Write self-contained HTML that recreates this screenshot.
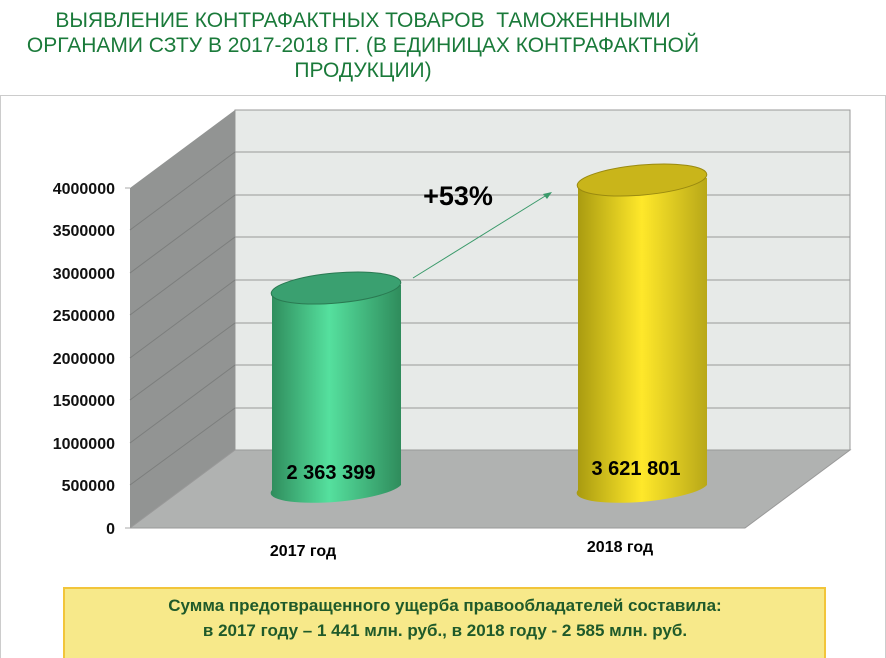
<!DOCTYPE html>
<html><head><meta charset="utf-8"><style>
body{margin:0;width:886px;height:658px;background:#fff;overflow:hidden;position:relative;font-family:"Liberation Sans",sans-serif}
.t{position:absolute;left:0;width:726px;top:8px;text-align:center;color:#1a7a3a;font-size:21px;line-height:25px}
</style></head><body>
<div class="t">ВЫЯВЛЕНИЕ КОНТРАФАКТНЫХ ТОВАРОВ&nbsp; ТАМОЖЕННЫМИ<br>ОРГАНАМИ СЗТУ В 2017-2018 ГГ. (В ЕДИНИЦАХ КОНТРАФАКТНОЙ<br>ПРОДУКЦИИ)</div>
<svg width="886" height="658" style="position:absolute;left:0;top:0">
<defs>
<linearGradient id="g" x1="0" x2="1"><stop offset="0" stop-color="#2f8c5c"/><stop offset=".45" stop-color="#55e09e"/><stop offset="1" stop-color="#2f8c5c"/></linearGradient>
<linearGradient id="y" x1="0" x2="1"><stop offset="0" stop-color="#a89a10"/><stop offset=".5" stop-color="#ffe82a"/><stop offset="1" stop-color="#b8a818"/></linearGradient>
</defs>
<rect x="0.5" y="95.5" width="885" height="570" fill="none" stroke="#ccc"/>
<polygon points="235,110 850,110 850,450 235,450" fill="#e7eae8" stroke="#999"/>
<g stroke="#999">
<line x1="235" y1="152" x2="850" y2="152"/><line x1="235" y1="195" x2="850" y2="195"/><line x1="235" y1="237" x2="850" y2="237"/><line x1="235" y1="280" x2="850" y2="280"/><line x1="235" y1="323" x2="850" y2="323"/><line x1="235" y1="365" x2="850" y2="365"/><line x1="235" y1="408" x2="850" y2="408"/>
</g>
<polygon points="130,188 235,110 235,450 130,528" fill="#929493"/>
<g stroke="#7c7e7d"><line x1="130" y1="230" x2="235" y2="152"/><line x1="130" y1="273" x2="235" y2="195"/><line x1="130" y1="315" x2="235" y2="237"/><line x1="130" y1="358" x2="235" y2="280"/><line x1="130" y1="400" x2="235" y2="323"/><line x1="130" y1="443" x2="235" y2="365"/><line x1="130" y1="485" x2="235" y2="408"/></g>
<polygon points="130,528 235,450 850,450 745,528" fill="#b0b2b1" stroke="#999"/>
<g stroke="#aaa"><line x1="125" y1="188" x2="130" y2="188"/><line x1="125" y1="528" x2="130" y2="528"/></g>
<g font-weight="bold" font-size="16" text-anchor="end" fill="#111">
<text x="115" y="194">4000000</text><text x="115" y="236">3500000</text><text x="115" y="279">3000000</text><text x="115" y="321">2500000</text><text x="115" y="364">2000000</text><text x="115" y="406">1500000</text><text x="115" y="449">1000000</text><text x="115" y="491">500000</text><text x="115" y="534">0</text>
</g>
<path d="M272,295 L272,490 A65,14 -5 0 0 401,485 L401,285 Z" fill="url(#g)"/>
<ellipse cx="336" cy="288" rx="65" ry="15" transform="rotate(-5 336 288)" fill="#3aa070" stroke="#2a7a52"/>
<path d="M578,185 L578,490 A65,14 -5 0 0 707,485 L707,178 Z" fill="url(#y)"/>
<ellipse cx="642" cy="180" rx="65" ry="15" transform="rotate(-5 642 180)" fill="#c9b51a" stroke="#9a8a10"/>
<line x1="413" y1="278" x2="550" y2="193" stroke="#3a9a6a"/>
<polygon points="552,192 543,194 547,199" fill="#3a9a6a"/>
<text x="458" y="205" font-size="27" font-weight="bold" text-anchor="middle">+53%</text>
<text x="331" y="479" font-size="20" font-weight="bold" text-anchor="middle">2 363 399</text>
<text x="636" y="475" font-size="20" font-weight="bold" text-anchor="middle">3 621 801</text>
<text x="303" y="556" font-size="16" font-weight="bold" text-anchor="middle">2017 год</text>
<text x="620" y="552" font-size="16" font-weight="bold" text-anchor="middle">2018 год</text>
<rect x="64" y="588" width="761" height="72" fill="#f7e98a" stroke="#f2c53a" stroke-width="2"/>
<g font-size="17" font-weight="bold" fill="#1f5a2a" text-anchor="middle">
<text x="445" y="611">Сумма предотвращенного ущерба правообладателей составила:</text>
<text x="445" y="636">в 2017 году – 1 441 млн. руб., в 2018 году - 2 585 млн. руб.</text>
</g>
</svg>
</body></html>
